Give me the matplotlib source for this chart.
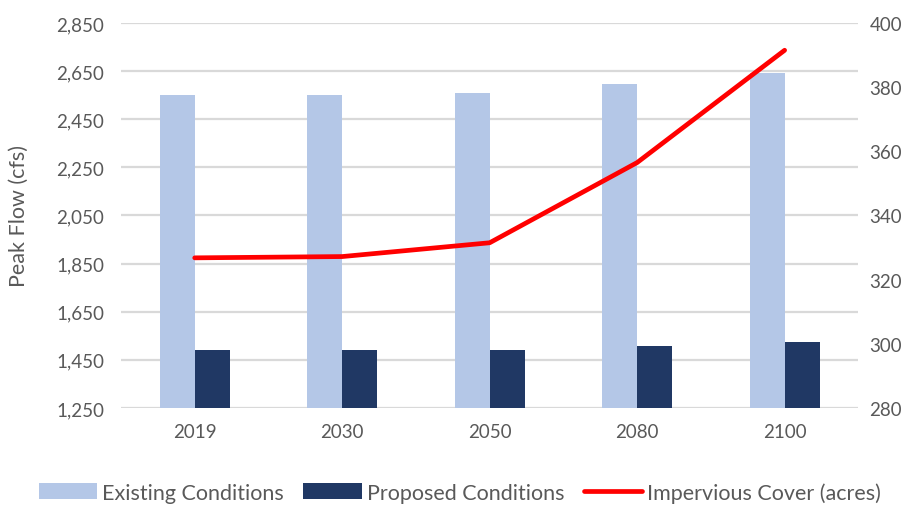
import matplotlib
matplotlib.use("Agg")
import matplotlib.pyplot as plt
import numpy as np
from matplotlib.ticker import FuncFormatter

# data
years = ["2019", "2030", "2050", "2080", "2100"]
existing = [2551, 2551, 2558, 2595, 2644]
proposed = [1492, 1492, 1492, 1508, 1524]
impervious = [326.8, 327.2, 331.5, 356.5, 391.5]

plt.rcParams['font.family'] = ['Lato', 'DejaVu Sans']
grey = "#595959"

fig = plt.figure(figsize=(9.2, 5.06), dpi=100)
ax = fig.add_axes([0.1315, 0.1917, 0.8015, 0.7609])
ax2 = ax.twinx()

x = np.arange(len(years))
w = 0.237
ax.bar(x - w / 2, existing, width=w, color="#B4C7E7", label="Existing Conditions", zorder=2)
ax.bar(x + w / 2, proposed, width=w, color="#203864", label="Proposed Conditions", zorder=2)
ax2.plot(x, impervious, color="#FF0000", lw=3.4, label="Impervious Cover (acres)",
         solid_capstyle="round", zorder=3)

ax.set_xlim(-0.5, len(years) - 0.5)
ax.set_ylim(1250, 2850)
ax.set_yticks(np.arange(1250, 2851, 200))
ax.yaxis.set_major_formatter(FuncFormatter(lambda v, p: f"{int(v):,}"))
ax2.set_ylim(280, 400)
ax2.set_yticks(np.arange(280, 401, 20))

ax.set_xticks(x)
ax.set_xticklabels(years)
ax.grid(axis="y", color="#D9D9D9", lw=1.6, zorder=0)
ax.set_axisbelow(True)

for a in (ax, ax2):
    for s in a.spines.values():
        s.set_visible(False)
    a.tick_params(length=0, labelsize=13.5, colors=grey)
ax.tick_params(axis="x", pad=11)
ax.tick_params(axis="y", pad=12)
ax2.tick_params(axis="y", pad=8)

ax.set_ylabel("Peak Flow (cfs)", fontsize=15.5, color=grey, labelpad=20)

h1, l1 = ax.get_legend_handles_labels()
h2, l2 = ax2.get_legend_handles_labels()
leg = fig.legend(h1 + h2, l1 + l2, loc="center", bbox_to_anchor=(0.5, 0.025), ncol=3,
                 frameon=False, fontsize=15.5, handlelength=2.7, handleheight=0.75,
                 columnspacing=0.9, handletextpad=0.25)
for t in leg.get_texts():
    t.set_color(grey)

fig.savefig("out.png", dpi=100)
